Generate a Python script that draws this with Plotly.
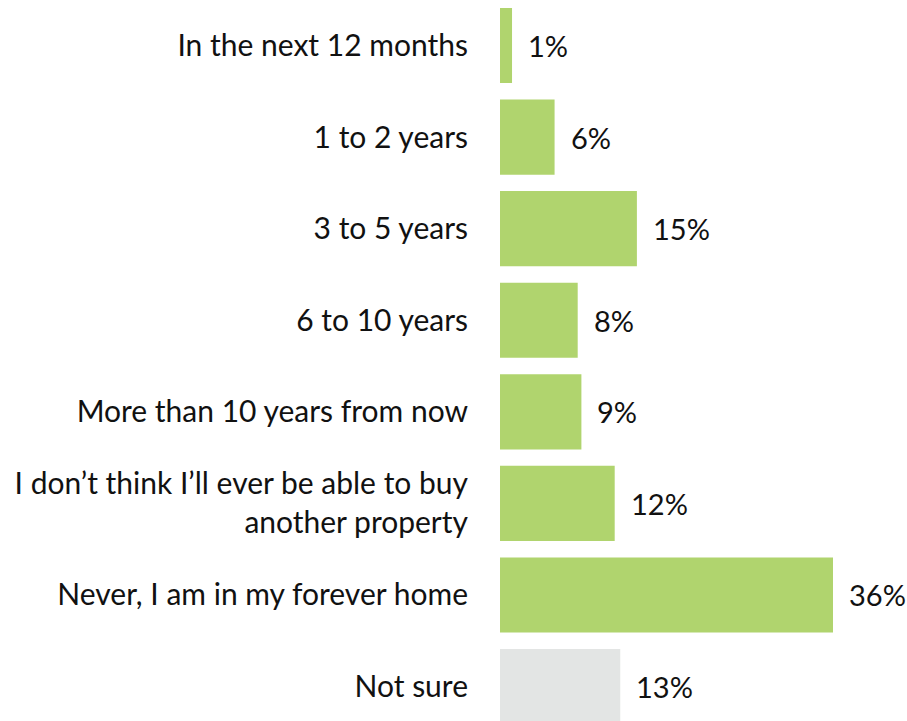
import plotly.graph_objects as go

categories = [
    "In the next 12 months",
    "1 to 2 years",
    "3 to 5 years",
    "6 to 10 years",
    "More than 10 years from now",
    "I don’t think I’ll ever be able to buy<br>another property",
    "Never, I am in my forever home",
    "Not sure",
]
values = [1.3, 5.9, 14.8, 8.4, 8.8, 12.4, 36, 13]
labels = ["1%", "6%", "15%", "8%", "9%", "12%", "36%", "13%"]
colors = ["#b0d46e"] * 7 + ["#e3e5e4"]

FONT = "Lato, Open Sans, sans-serif"

fig = go.Figure(
    go.Bar(
        x=values,
        y=categories,
        orientation="h",
        marker=dict(color=colors, line=dict(width=0)),
        width=0.82,
        hoverinfo="skip",
    )
)

for v, c, t in zip(values, categories, labels):
    fig.add_annotation(
        x=v, y=c, text=t, showarrow=False, xanchor="left", yanchor="middle",
        xshift=14, font=dict(family=FONT, size=29, color="#111111"),
    )

fig.update_layout(
    width=907,
    height=721,
    margin=dict(l=500, r=37, t=0, b=0),
    paper_bgcolor="white",
    plot_bgcolor="white",
    showlegend=False,
    font=dict(family=FONT, size=30, color="#111111"),
)
fig.update_xaxes(
    range=[0, 40], visible=False, showgrid=False, zeroline=False,
)
fig.update_yaxes(
    type="category",
    range=[7.376, -0.497],
    showgrid=False,
    zeroline=False,
    showline=False,
    ticks="",
    ticklabelstandoff=31,
    automargin=False,
    tickfont=dict(family=FONT, size=30, color="#111111"),
)

fig.write_html(
    "out.html",
    config={"displayModeBar": False},
    post_script="document.body.style.margin='0';document.body.style.overflow='hidden';",
)
